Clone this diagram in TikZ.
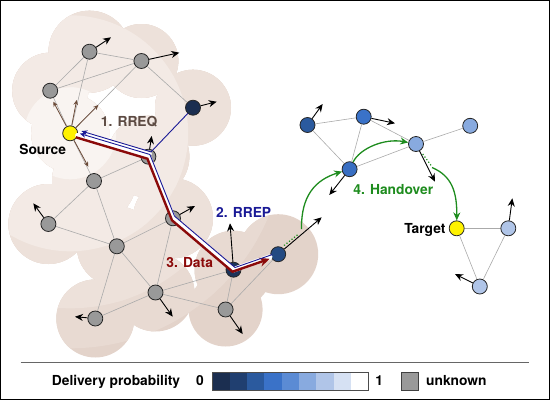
\documentclass[tikz,border=0pt]{standalone}
\usepackage{fontspec}
\setmainfont{TeX Gyre Heros}
\usetikzlibrary{arrows.meta,calc}
\definecolor{ngray}{HTML}{999999}
\definecolor{edgegray}{HTML}{AAAAAA}
\definecolor{brownarr}{HTML}{6B4A38}
\definecolor{rreqc}{HTML}{5C4A42}
\definecolor{rrepc}{HTML}{1A1A96}
\definecolor{datac}{HTML}{8B0A0A}
\definecolor{handc}{HTML}{1E8C1E}
\definecolor{cl1}{HTML}{F9F4F1}
\definecolor{cl2}{HTML}{F3EAE5}
\definecolor{cl3}{HTML}{EDE1DA}
\definecolor{cl4}{HTML}{E8DAD2}
\definecolor{cl5}{HTML}{E3D3CA}
\definecolor{p1}{HTML}{1B2E50}
\definecolor{p2}{HTML}{203F70}
\definecolor{p3}{HTML}{2B5A9E}
\definecolor{p4}{HTML}{3A72C8}
\definecolor{p5}{HTML}{5B8BD4}
\definecolor{p6}{HTML}{88AADF}
\definecolor{p7}{HTML}{B0C5E8}
\definecolor{p8}{HTML}{D6E1F3}
\definecolor{p9}{HTML}{FFFFFF}
\newcommand{\cloudfill}[1]{%
  \fill[#1] (pS) circle[radius=39pt];
  \fill[#1] (pA) circle[radius=41pt];
  \fill[#1] (pB) circle[radius=37pt];
  \fill[#1] (pC) circle[radius=38pt];
  \fill[#1] (pD) circle[radius=38pt];
  \fill[#1] (pE) circle[radius=41pt];
  \fill[#1] (pF) circle[radius=42pt];
  \fill[#1] (pG) circle[radius=40pt];
  \fill[#1] (pH) circle[radius=40pt];
  \fill[#1] (pI) circle[radius=40pt];
  \fill[#1] (pJ) circle[radius=39pt];
  \fill[#1] (pK) circle[radius=40pt];
  \fill[#1] (pL) circle[radius=39pt];
  \fill[#1] (pM) circle[radius=39pt];
  \fill[#1] (pN) circle[radius=37pt];}
\begin{document}
\begin{tikzpicture}[x=1pt,y=-1pt,
  nd/.style={circle,draw=black!85,line width=0.8pt,minimum size=15pt,inner sep=0pt},
  gnode/.style={nd,fill=ngray},
  ed/.style={draw=edgegray,line width=0.6pt},
  mv/.style={-{Stealth[length=8pt,width=7pt]},line width=0.9pt,black},
  bmv/.style={-{Stealth[length=5pt,width=4.5pt]},line width=0.8pt,brownarr},
  lbl/.style={font=\fontsize{13.8}{16}\selectfont\bfseries,inner sep=0pt},
  hand/.style={handc,line width=1.3pt,-{Stealth[length=8pt,width=7pt]}},
  handdot/.style={handc,line width=1.2pt,dotted},
]
\useasboundingbox (0,0) rectangle (550,400);
% positions
\coordinate (pS) at (70.2,133.3);
\coordinate (pA) at (89.5,51.7);
\coordinate (pB) at (141.4,61);
\coordinate (pC) at (50.2,90.7);
\coordinate (pD) at (193,107.7);
\coordinate (pE) at (148.4,156.7);
\coordinate (pF) at (94,181);
\coordinate (pG) at (48.4,224);
\coordinate (pH) at (173,218.3);
\coordinate (pI) at (116.8,246.3);
\coordinate (pJ) at (233.5,269.7);
\coordinate (pK) at (278.2,254.2);
\coordinate (pL) at (155.5,292.5);
\coordinate (pM) at (95.3,318.5);
\coordinate (pN) at (225.6,309.5);
% clouds (bands of distance from the source)
\cloudfill{cl5}
\begin{scope}\clip (pS) circle[radius=215pt]; \cloudfill{cl4} \end{scope}
\begin{scope}\clip (pS) circle[radius=175pt]; \cloudfill{cl3} \end{scope}
\begin{scope}\clip (pS) circle[radius=118pt]; \cloudfill{cl2} \end{scope}
\begin{scope}\clip (pS) circle[radius=46pt]; \cloudfill{cl1} \end{scope}
% nodes
\node[nd,fill=yellow] (S) at (pS) {};
\node[gnode] (A) at (pA) {};
\node[gnode] (B) at (pB) {};
\node[gnode] (C) at (pC) {};
\node[nd,fill=p1] (D) at (pD) {};
\node[gnode] (E) at (pE) {};
\node[gnode] (F) at (pF) {};
\node[gnode] (G) at (pG) {};
\node[gnode] (H) at (pH) {};
\node[gnode] (I) at (pI) {};
\node[nd,fill=p1!70!p2] (J) at (pJ) {};
\node[nd,fill=p2!60!p3] (K) at (pK) {};
\node[gnode] (L) at (pL) {};
\node[gnode] (M) at (pM) {};
\node[gnode] (N) at (pN) {};
\node[nd,fill=p3] (P) at (307.5,125) {};
\node[nd,fill=p4] (Q) at (363.7,116.7) {};
\node[nd,fill=p4!85!p3] (R) at (349.6,169.2) {};
\node[nd,fill=p6] (T) at (416,144) {};
\node[nd,fill=p6] (U) at (470.2,125.8) {};
\node[nd,fill=yellow] (Tg) at (456.7,228.3) {};
\node[nd,fill=p7] (V) at (508.3,228.3) {};
\node[nd,fill=p7] (W) at (479.8,286.5) {};
% edges
\foreach \a/\b in {A/B,A/C,A/S,C/B,B/S,B/D,S/C,S/F,S/E,E/F,F/G,F/I,G/I,I/H,I/L,H/L,I/M,L/M,L/J,L/N,J/N,N/K,E/H,H/J,J/K,
                   P/Q,P/R,Q/R,Q/T,R/T,T/U,Tg/V,Tg/W,V/W}
  \draw[ed] (\a) -- (\b);
% brown RREQ arrows
\coordinate (sb1) at (53.3,101.7);
\coordinate (sb2) at (76.7,100);
\coordinate (sb3) at (98.3,105);
\coordinate (sb4) at (88.3,166.7);
\foreach \c in {sb1,sb2,sb3,sb4} \draw[bmv] (S) -- (\c);
% motion arrows
\coordinate (mA) at (111,37.3);
\coordinate (mB) at (179.3,52.7);
\coordinate (mD) at (216.7,101.7);
\coordinate (mE) at (151.7,136);
\coordinate (mG) at (33.3,203.3);
\coordinate (mH) at (195,206);
\coordinate (mJ) at (230,223.3);
\coordinate (mK) at (321.7,217.3);
\coordinate (mL) at (172.7,316.7);
\coordinate (mM) at (75,316.7);
\coordinate (mN) at (242.7,334);
\coordinate (mP) at (322.7,104);
\coordinate (mQ) at (395,123.3);
\coordinate (mR) at (329.3,195);
\coordinate (mT) at (435,181.7);
\coordinate (mV) at (512.3,198.3);
\coordinate (mW) at (455,274);
\foreach \n in {A,B,D,E,G,H,J,K,L,M,N,P,Q,R,T,V,W} \draw[mv] (\n) -- (m\n);
% route paths
\draw[white,line width=5.5pt,line join=round,line cap=round]
  ($(S)!8pt!(E)$) -- (E.center) -- (H.center) -- (J.center) -- ($(K)!9pt!(J)$);
\draw[white,line width=4pt,line cap=round] ($(S)!9pt!(E)+(1.5,-3)$) -- ($(E)+(1.5,-3)$);
\draw[datac,line width=2.4pt,line join=miter,-{Stealth[length=10pt,width=9pt]}]
  ($(S)!7pt!(E)+(-1,2)$) -- ($(E)+(-1,2)$) -- ($(H)+(-1,2)$) -- ($(J)+(-1,2)$) -- ($(K)!8pt!(J)+(-1,2)$);
\draw[rrepc,line width=0.9pt,line join=miter,-{Stealth[length=6pt,width=5pt]}]
  ($(K)!8pt!(J)+(1.5,-2.2)$) -- ($(J)+(1.5,-2.2)$) -- ($(H)+(1.5,-2.2)$) -- ($(E)+(1.5,-2.2)$) -- ($(S)!8.5pt!(E)+(1.5,-2.2)$);
\draw[rrepc,line width=0.9pt,line join=miter,-{Stealth[length=6pt,width=5pt]}]
  ($(D)!7.5pt!(E)$) -- ($(E)+(2.6,-4.8)$) -- ($(S)!9pt!(E)+(2.6,-4.8)$);
% handover
\coordinate (gd1) at (284,245.5);
\coordinate (gd2) at (298,234.5);
\coordinate (gs1) at (301.5,229);
\coordinate (gd3) at (422.7,154);
\coordinate (gd4) at (431.5,166);
\coordinate (gs2) at (432,167.5);
\draw[handdot] (gd1) -- (gd2);
\draw[hand] (gs1) .. controls (301,196) and (315,180) .. (R);
\draw[hand] (R) .. controls (360,148) and (385,138) .. (T);
\draw[handdot] (gd3) -- (gd4);
\draw[hand] (gs2) .. controls (452,176) and (457,192) .. (Tg);
% labels
\node[lbl,anchor=base] (lsrc) at (42.7,154) {Source};
\node[lbl,anchor=base east] (ltgt) at (445.7,233.3) {Target};
\node[lbl,anchor=base,text=rreqc] (l1) at (129.2,126) {1. RREQ};
\node[lbl,anchor=base,text=rrepc] (l2) at (243.7,217) {2. RREP};
\node[lbl,anchor=base,text=datac] (l3) at (189.7,267) {3. Data};
\node[lbl,anchor=base,text=handc] (l4) at (393.3,194) {4. Handover};
% legend
\coordinate (lg1) at (20.7,362.5);
\coordinate (lg2) at (528.7,362.5);
\draw[black!60,line width=1pt] (lg1) -- (lg2);
\node[lbl,anchor=base west] (ldp) at (51.7,385.5) {Delivery probability};
\node[lbl,anchor=base] (l0) at (200,385.5) {0};
\foreach \c [count=\i from 0] in {p1,p2,p3,p4,p5,p6,p7,p8,p9}
  \fill[\c] (212.3+17.33*\i,372.3) rectangle (212.3+17.33*\i+17.33,390);
\draw[black!70,line width=0.9pt] (212.3,372.3) rectangle (368.3,390);
\node[lbl,anchor=base] (l1v) at (379.2,385.5) {1};
\node[draw=black!75,line width=0.9pt,fill=ngray,minimum width=16.6pt,minimum height=17.7pt,inner sep=0pt] (lunk) at (410,381.2) {};
\node[lbl,anchor=base west] (lunkt) at (426,385.5) {unknown};
% frame
\draw[line width=1pt] (0.5,0.5) rectangle (549.5,399.5);
\end{tikzpicture}
\end{document}
